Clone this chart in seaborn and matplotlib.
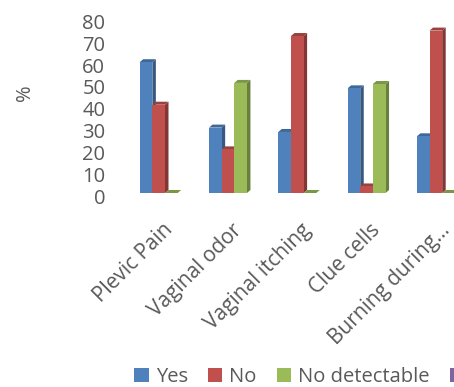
import numpy as np
import pandas as pd
import seaborn as sns
import matplotlib
matplotlib.use("Agg")
import matplotlib.pyplot as plt
from matplotlib.patches import Polygon, Patch
from matplotlib import transforms
import matplotlib.colors as mcolors

categories = ["Plevic Pain", "Vaginal odor", "Vaginal itching", "Clue cells", "Burning during..."]
series = ["Yes", "No", "No detectable", ""]
yes_vals = [60, 30, 28, 48, 26]
no_vals = [40.5, 20, 72, 3, 74.5]
nodet_vals = [0, 50.5, 0, 50, 0]
fourth_vals = [np.nan] * 5
colors = ["#4F81BD", "#C0504D", "#9BBB59", "#8064A2"]
yticks = [0, 10, 20, 30, 40, 50, 60, 70, 80]

rows = []
for s, vals in zip(series, [yes_vals, no_vals, nodet_vals, fourth_vals]):
    for c, v in zip(categories, vals):
        rows.append({"cat": c, "series": s, "val": v})
df = pd.DataFrame(rows)

sns.set_style("white")
plt.rcParams["font.family"] = ["Open Sans", "DejaVu Sans"]
TXT = "#595959"
FS = 14.5

W, H = 454, 387
fig = plt.figure(figsize=(W / 100, H / 100), dpi=100)
px0, spacing = 130.35, 69.3
ybase, ytop = 193, 193 - 8 * 21.8
ax = fig.add_axes([px0 / W, 1 - ybase / H, 5 * spacing / W, (ybase - ytop) / H])

sns.barplot(data=df, x="cat", y="val", hue="series", order=categories,
            hue_order=series, palette=colors, width=0.73, errorbar=None,
            saturation=1, ax=ax, legend=False)
ax.set_xlim(-0.5, 4.5)
ax.set_ylim(0, 80)

# pseudo-3D depth faces
dx = 3.5 / spacing
dy = 3.0 / 2.18
for i, p in enumerate(ax.patches):
    h = p.get_height()
    if h is None or np.isnan(h):
        continue
    x, w = p.get_x(), p.get_width()
    col = np.array(mcolors.to_rgb(p.get_facecolor()))
    z = 2 + i * 0.001 + (i // 5) * 0.1
    p.set_zorder(z + 0.02)
    p.set_edgecolor("none")
    side = Polygon([(x + w, 0), (x + w + dx, dy), (x + w + dx, h + dy), (x + w, h)],
                   closed=True, facecolor=col * 0.68, edgecolor="none", zorder=z, clip_on=False)
    top = Polygon([(x, h), (x + dx, h + dy), (x + w + dx, h + dy), (x + w, h)],
                  closed=True, facecolor=col * 0.8, edgecolor="none", zorder=z + 0.01, clip_on=False)
    ax.add_patch(side)
    ax.add_patch(top)

for sp in ax.spines.values():
    sp.set_visible(False)
ax.set_yticks(yticks)
ax.set_yticklabels([str(t) for t in yticks], fontsize=FS, color=TXT)
ax.tick_params(axis="y", length=0, pad=18)
off = transforms.ScaledTranslation(0, -3 / 100, fig.dpi_scale_trans)
for lab in ax.get_yticklabels():
    lab.set_transform(lab.get_transform() + off)

ax.set_xticks(range(len(categories)))
ax.set_xticklabels(categories, fontsize=FS + 0.5, color=TXT, rotation=45, ha="right",
                   rotation_mode="anchor")
ax.tick_params(axis="x", length=0, pad=19)
off2 = transforms.ScaledTranslation(-3 / 100, 0, fig.dpi_scale_trans)
for lab in ax.get_xticklabels():
    lab.set_transform(lab.get_transform() + off2)

ax.set_xlabel("")
ax.set_ylabel("")
fig.text(25 / W, 1 - 93 / H, "%", rotation=90, fontsize=FS, color=TXT, ha="center", va="center")

handles = [Patch(facecolor=c, edgecolor="none") for c in colors]
fig.legend(handles, series, loc="center left", bbox_to_anchor=(134 / W, 1 - 377 / H),
           ncol=4, frameon=False, fontsize=FS, labelcolor=TXT, handlelength=0.72,
           handleheight=0.72, handletextpad=0.35, columnspacing=1.0, borderaxespad=0,
           borderpad=0)

fig.savefig("out.png", dpi=100)
